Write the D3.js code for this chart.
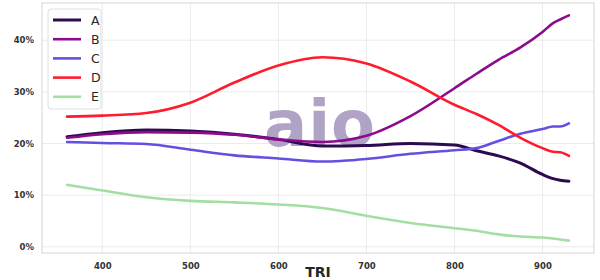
<!DOCTYPE html>
<html><head><meta charset="utf-8">
<script src="https://cdn.jsdelivr.net/npm/d3@7"></script>
<style>body{margin:0;background:#fff}svg{display:block}</style>
</head><body><svg id="c" width="600" height="280"></svg>
<script>
const xValues = [360, 400, 450, 500, 550, 600, 650, 700, 750, 800, 825, 850, 875, 900, 912, 920, 930];
const seriesNames = ["A", "B", "C", "D", "E"];
const seriesA = [21.3, 22.1, 22.6, 22.4, 21.8, 20.8, 19.5, 19.6, 20.0, 19.7, 18.6, 17.6, 16.2, 14.0, 13.2, 12.9, 12.7];
const seriesB = [21.1, 21.8, 22.2, 22.1, 21.7, 20.8, 20.3, 21.5, 25.3, 30.7, 33.5, 36.2, 38.6, 41.6, 43.3, 44.0, 44.8];
const seriesC = [20.3, 20.1, 19.9, 18.8, 17.7, 17.1, 16.5, 17.0, 18.0, 18.7, 19.1, 20.5, 21.9, 22.8, 23.3, 23.3, 23.9];
const seriesD = [25.2, 25.4, 25.9, 27.9, 31.8, 35.1, 36.7, 35.5, 32.0, 27.5, 25.7, 23.6, 21.1, 19.1, 18.4, 18.3, 17.6];
const seriesE = [12.0, 10.9, 9.6, 8.9, 8.6, 8.2, 7.5, 6.0, 4.6, 3.6, 3.1, 2.4, 2.0, 1.8, 1.6, 1.4, 1.2];
const xTicks = [400, 500, 600, 700, 800, 900];
const yTicks = [0, 10, 20, 30, 40];
const xLabel = "TRI";
const watermark = "aio";

const colors = ["#2d0a4f", "#8c0a8c", "#6450e0", "#ff1a2e", "#a3dea3"];
const widths = [3, 2.6, 2.6, 2.6, 2.6];
const allSeries = [seriesA, seriesB, seriesC, seriesD, seriesE];

const svg = d3.select("#c");
const L = 42, R = 594, T = 3, B = 253;
const x = d3.scaleLinear().domain([331.5, 958.5]).range([L, R]);
const y = d3.scaleLinear().domain([-1.2, 47.2]).range([B, T]);

// grid
svg.append("g").selectAll("line").data(xTicks).join("line")
  .attr("x1", d => x(d)).attr("x2", d => x(d)).attr("y1", T).attr("y2", B)
  .attr("stroke", "#ebebeb").attr("stroke-width", 1);
svg.append("g").selectAll("line").data(yTicks).join("line")
  .attr("x1", L).attr("x2", R).attr("y1", d => y(d)).attr("y2", d => y(d))
  .attr("stroke", "#ebebeb").attr("stroke-width", 1);

// frame
svg.append("rect").attr("x", L).attr("y", T).attr("width", R - L).attr("height", B - T)
  .attr("fill", "none").attr("stroke", "#dcdcdc").attr("stroke-width", 1.2);

// axes
const xa = svg.append("g").attr("transform", `translate(0,${B})`)
  .call(d3.axisBottom(x).tickValues(xTicks).tickSize(0).tickPadding(10).tickFormat(d3.format("d")));
const ya = svg.append("g").attr("transform", `translate(${L},0)`)
  .call(d3.axisLeft(y).tickValues(yTicks).tickSize(0).tickPadding(8).tickFormat(d => d + "%"));
[xa, ya].forEach(a => {
  a.select(".domain").remove();
  a.selectAll("text").attr("font-family", "DejaVu Sans").attr("font-weight", "bold")
    .attr("font-size", 8.5).attr("fill", "#333");
});

svg.append("text").attr("x", (L + R) / 2).attr("y", 277).attr("text-anchor", "middle")
  .attr("font-family", "DejaVu Sans").attr("font-weight", "bold").attr("font-size", 14)
  .attr("fill", "#262626").text(xLabel);

// watermark
svg.append("text").attr("x", 320).attr("y", 146).attr("text-anchor", "middle")
  .attr("font-family", "DejaVu Sans").attr("font-weight", "bold").attr("font-size", 64)
  .attr("letter-spacing", 1)
  .attr("fill", "#a394bc").attr("opacity", 0.85).text(watermark);

// lines
const line = d3.line().x((d, i) => x(xValues[i])).y(d => y(d)).curve(d3.curveMonotoneX);
allSeries.forEach((s, k) => {
  svg.append("path").datum(s).attr("d", line).attr("fill", "none")
    .attr("stroke", colors[k]).attr("stroke-width", widths[k])
    .attr("stroke-linecap", "round").attr("stroke-linejoin", "round");
});

// legend
const lg = svg.append("g");
lg.append("rect").attr("x", 48).attr("y", 9).attr("width", 53).attr("height", 100).attr("rx", 3)
  .attr("fill", "#fff").attr("fill-opacity", 0.85).attr("stroke", "#dedede").attr("stroke-width", 1);
seriesNames.forEach((n, k) => {
  const yy = 20 + k * 19.2;
  lg.append("line").attr("x1", 53).attr("x2", 81).attr("y1", yy).attr("y2", yy)
    .attr("stroke", colors[k]).attr("stroke-width", widths[k]);
  lg.append("text").attr("x", 91).attr("y", yy + 4.5).attr("font-family", "DejaVu Sans")
    .attr("font-size", 12.5).attr("fill", "#262626").text(n);
});
</script></body></html>
